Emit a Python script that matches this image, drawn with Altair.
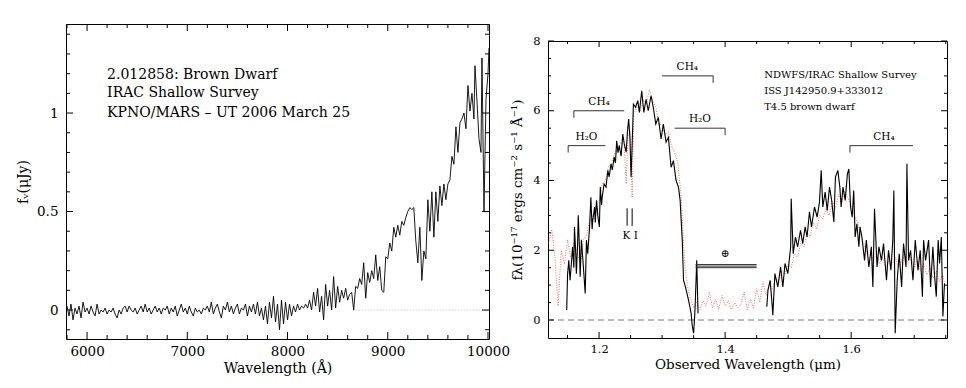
import altair as alt
import pandas as pd

FONT = "DejaVu Serif"

# ---------------- Left panel: optical spectrum (KPNO/MARS) ----------------
opt_wave = list(range(5800, 9600, 20)) + [
    9600, 9620, 9640, 9660, 9680, 9700, 9720, 9740, 9760, 9780, 9800, 9820,
    9840, 9860, 9870, 9890, 9910, 9930, 9940, 9960, 9980, 10000, 10010]
opt_flux = [
    0.02, -0.03, 0.03, -0.05, 0.01, -0.02, 0.02, -0.04, 0.04, -0.01,
    0.01, -0.02, 0.02, -0.01, -0.03, 0.03, -0.02, 0.0, -0.01, 0.01,
    -0.02, 0.0, -0.01, 0.01, -0.02, -0.04, 0.0, -0.02, 0.01, 0.02,
    -0.01, 0.02, 0.0, -0.01, 0.01, -0.02, 0.0, 0.02, -0.01, 0.03,
    -0.01, 0.01, -0.02, 0.0, 0.02, -0.01, 0.01, -0.02, 0.01, 0.0,
    0.02, -0.02, 0.01, -0.01, 0.02, -0.03, 0.0, 0.03, -0.01, 0.01,
    -0.02, 0.02, -0.01, -0.03, 0.01, -0.01, 0.0, -0.02, 0.01, 0.0,
    0.02, -0.01, 0.04, -0.02, 0.01, 0.03, -0.01, -0.04, 0.02, 0.0,
    0.04, -0.01, 0.02, -0.02, 0.01, 0.03, -0.02, 0.01, 0.0, 0.03,
    -0.03, 0.02, -0.01, 0.03, -0.02, 0.04, -0.03, 0.01, -0.05, 0.02,
    -0.07, 0.04, -0.04, 0.07, -0.06, 0.03, -0.10, 0.05, -0.07, 0.04,
    -0.05, 0.03, -0.03, 0.02, -0.01, 0.03, 0.0, 0.02, 0.01, 0.03,
    0.01, 0.05, 0.0, 0.09, 0.02, 0.11, -0.01, 0.07, -0.05, 0.13,
    0.02, 0.10, 0.0, 0.17, 0.01, 0.12, 0.04, 0.10, 0.06, 0.11,
    0.05, 0.08, 0.09, 0.0, 0.12, 0.11, 0.16, 0.13, 0.24, 0.06,
    0.19, 0.14, 0.20, 0.16, 0.28, 0.15, 0.22, 0.10, 0.09, 0.27,
    0.26, 0.34, 0.30, 0.42, 0.37, 0.43, 0.38, 0.45, 0.43, 0.47,
    0.50, 0.52, 0.51, 0.52, 0.35, 0.24, 0.42, 0.15, 0.30, 0.26,
    0.56, 0.40, 0.60, 0.37, 0.60, 0.45, 0.63, 0.53, 0.64, 0.56,
    0.64, 0.66, 0.78, 0.74, 0.93, 0.80, 0.95, 0.97, 1.00, 0.92, 1.14, 1.01,
    1.10, 0.97, 1.24, 1.06, 0.87, 0.80, 1.28, 0.50, 1.07, 1.20, 1.33]
opt_zero_wave = [8650, 10010]
opt_info = ["2.012858: Brown Dwarf", "IRAC Shallow Survey",
            "KPNO/MARS \u2013 UT 2006 March 25"]
opt_info_y = [1.173, 1.083, 0.978]
opt_info_x = [6200, 6200, 6200]

# ---------------- Right panel: near-IR spectrum ----------------
ir_wave_a = [
    1.1487, 1.1500, 1.152, 1.154, 1.156, 1.158, 1.160, 1.161, 1.163, 1.164,
    1.166, 1.167, 1.169, 1.170, 1.172, 1.174, 1.176, 1.178, 1.180, 1.182,
    1.185, 1.187, 1.189, 1.190, 1.193, 1.194, 1.196, 1.198, 1.2005, 1.202,
    1.204, 1.205, 1.208, 1.211, 1.214, 1.216, 1.219, 1.221, 1.224, 1.226,
    1.228, 1.230, 1.232, 1.235, 1.2376, 1.240, 1.243, 1.245, 1.247, 1.249,
    1.2508, 1.2525, 1.2545, 1.258, 1.2614, 1.264, 1.2677, 1.271, 1.2746, 1.278,
    1.2825, 1.286, 1.290, 1.294, 1.2984, 1.302, 1.3063, 1.310, 1.3143, 1.318,
    1.3222, 1.326, 1.3286, 1.332, 1.334, 1.337, 1.3407, 1.343, 1.346, 1.348,
    1.350, 1.352, 1.355, 1.357]
ir_flux_a = [
    0.29, 1.3, 1.71, 1.14, 1.6, 2.1, 1.5, 2.67, 1.9, 1.33,
    2.2, 3.0, 2.0, 1.24, 2.3, 1.81, 1.3, 0.76, 2.29, 1.9,
    2.67, 3.52, 2.6, 2.86, 3.24, 2.8, 3.43, 3.0, 2.67, 3.81,
    3.3, 3.52, 3.9, 3.81, 4.29, 4.1, 4.48, 4.3, 4.67, 4.5,
    5.14, 4.8, 5.0, 4.7, 5.33, 5.05, 4.81, 5.4, 5.76, 5.2,
    4.1, 5.0, 6.19, 6.1, 6.29, 5.95, 6.57, 5.95, 6.33, 6.0,
    6.43, 6.1, 5.62, 5.81, 5.19, 5.62, 5.1, 5.24, 4.38, 4.57,
    4.0, 3.81, 3.43, 2.29, 1.14, 0.95, 0.67, 0.48, 0.19, -0.19,
    -0.38, 0.2, 1.71, 0.19]
ir_wave_b = [
    1.4661, 1.468, 1.4714, 1.474, 1.4757, 1.479, 1.4836, 1.488, 1.4916, 1.495,
    1.4995, 1.504, 1.5048, 1.508, 1.5116, 1.515, 1.5196, 1.523, 1.527, 1.530,
    1.5338, 1.537, 1.5418, 1.546, 1.5497, 1.5524, 1.555, 1.5587, 1.562, 1.5656,
    1.569, 1.5725, 1.575, 1.5788, 1.582, 1.5841, 1.587, 1.5905, 1.594, 1.5963,
    1.599, 1.6016, 1.604, 1.6063, 1.609, 1.6122, 1.614, 1.617, 1.6212, 1.624,
    1.628, 1.632, 1.6344, 1.637, 1.641, 1.644, 1.648, 1.6513, 1.656, 1.6592,
    1.663, 1.666, 1.6677, 1.6698, 1.673, 1.6762, 1.680, 1.683, 1.687, 1.6884,
    1.691, 1.6942, 1.698, 1.7016, 1.706, 1.7095, 1.713, 1.7148, 1.718, 1.7228,
    1.726, 1.7296, 1.732, 1.735, 1.738, 1.7402, 1.743, 1.7455, 1.748]
ir_flux_b = [
    0.38, 0.86, 1.14, 0.57, 0.14, 1.33, 0.95, 1.52, 0.95, 1.62,
    1.33, 2.1, 3.48, 1.9, 2.38, 2.1, 2.57, 2.19, 2.67, 2.38,
    3.1, 2.67, 3.24, 2.95, 3.38, 4.29, 3.24, 3.67, 3.14, 3.81,
    3.43, 2.81, 4.1, 4.29, 3.81, 3.24, 3.81, 3.43, 4.19, 4.33,
    3.24, 2.95, 3.71, 2.38, 2.76, 2.1, 2.67, 2.38, 1.71, 2.29,
    1.52, 2.1, 0.95, 3.19, 1.52, 2.1, 1.71, 2.19, 1.14, 2.0,
    1.43, 2.29, 3.71, -0.38, 1.14, 1.9, 0.95, 2.19, 1.52, 4.48,
    1.71, 2.0, 1.14, 2.29, 1.43, 2.0, 0.67, 2.29, 1.71, 2.29,
    0.95, 2.1, 1.33, 0.67, 2.29, 1.62, 2.38, 0.1, 1.05]
tmpl_wave = [
    1.120, 1.125, 1.130, 1.135, 1.140, 1.145, 1.150, 1.155, 1.160, 1.165,
    1.170, 1.175, 1.180, 1.185, 1.190, 1.195, 1.200, 1.205, 1.210, 1.215,
    1.220, 1.225, 1.230, 1.235, 1.240, 1.243, 1.246, 1.250, 1.2525, 1.255,
    1.260, 1.265, 1.270, 1.275, 1.280, 1.285, 1.290, 1.295, 1.300, 1.305,
    1.310, 1.315, 1.320, 1.325, 1.330, 1.333, 1.336, 1.340,
    1.345, 1.350, 1.355, 1.360, 1.365, 1.370, 1.375, 1.380, 1.385, 1.390,
    1.395, 1.400, 1.405, 1.410, 1.415, 1.420, 1.425, 1.430, 1.435, 1.440,
    1.445, 1.450, 1.455, 1.460, 1.465, 1.470, 1.475, 1.480, 1.485, 1.490,
    1.495, 1.500, 1.505, 1.510, 1.515, 1.520, 1.525, 1.530, 1.535, 1.540,
    1.545, 1.550, 1.555, 1.560, 1.565, 1.570, 1.575, 1.580, 1.585, 1.590,
    1.595, 1.600, 1.605, 1.610, 1.615, 1.620, 1.625, 1.630, 1.635, 1.640,
    1.645, 1.650, 1.655, 1.660, 1.665, 1.670, 1.675, 1.680, 1.685, 1.690,
    1.695, 1.700, 1.705, 1.710, 1.715, 1.720, 1.725, 1.730, 1.735, 1.740,
    1.745, 1.750]
tmpl_flux = [
    2.2, 2.6, 1.8, 0.4, 2.0, 1.6, 2.3, 1.8, 2.2, 2.0,
    1.6, 2.3, 2.4, 2.9, 2.8, 3.3, 3.4, 3.9, 4.0, 4.4,
    4.5, 4.8, 4.9, 5.1, 5.0, 3.9, 5.3, 5.4, 3.5, 5.9,
    6.1, 6.0, 6.3, 6.2, 6.6, 6.3, 6.1, 5.6, 5.6, 5.3,
    5.4, 5.0, 4.8, 4.5, 3.6, 2.6, 1.6, 1.0,
    0.6, 0.35, 0.5, 0.3, 0.55, 0.4, 0.8, 0.35, 0.6, 0.3,
    0.7, 0.4, 0.55, 0.3, 0.5, 0.35, 0.45, 0.8, 0.3, 0.6,
    0.35, 0.9, 0.5, 1.1, 0.7, 1.0, 0.9, 1.2, 1.1, 1.4,
    1.3, 1.6, 1.5, 1.9, 1.8, 2.2, 2.1, 2.5, 2.4, 2.8,
    2.6, 3.0, 2.9, 3.2, 3.0, 3.4, 3.2, 3.6, 3.4, 3.7,
    3.5, 3.3, 3.0, 2.8, 2.4, 2.2, 1.9, 2.0, 1.7, 1.9,
    1.6, 1.8, 1.5, 1.7, 1.6, 1.8, 1.5, 1.7, 1.9, 1.6,
    1.8, 1.5, 1.7, 1.4, 1.6, 1.3, 1.5, 1.2, 1.4, 1.1,
    1.3, 0.9]
ir_zero_wave = [1.119, 1.752]

band_names = ["H\u2082O", "CH\u2084", "CH\u2084", "H\u2082O", "CH\u2084"]
band_x1 = [1.151, 1.160, 1.300, 1.320, 1.598]
band_x2 = [1.210, 1.240, 1.381, 1.400, 1.698]
band_y = [5.0, 6.0, 7.0, 5.5, 5.0]
band_end_x = [1.151, 1.160, 1.381, 1.400, 1.598]
band_end_y = [4.8, 5.8, 6.8, 5.3, 4.8]
band_label_x = [1.180, 1.200, 1.340, 1.360, 1.652]
band_label_y = [5.17, 6.17, 7.17, 5.67, 5.17]

ki_x = [1.2445, 1.2525]
ki_y1 = [2.7, 2.7]
ki_y2 = [3.2, 3.2]
telluric_y = [1.50, 1.545, 1.59]
telluric_x1 = 1.353
telluric_x2 = 1.450

ir_info = ["NDWFS/IRAC Shallow Survey", "ISS J142950.9+333012", "T4.5 brown dwarf"]
ir_info_y = [6.94, 6.49, 6.03]
ir_info_x = [1.462, 1.462, 1.462]

# tick positions
opt_x_major = [6000, 7000, 8000, 9000, 10000]
opt_x_minor = [5800, 6200, 6400, 6600, 6800, 7200, 7400, 7600, 7800, 8200,
               8400, 8600, 8800, 9200, 9400, 9600, 9800]
opt_y_major = [0, 0.5, 1]
opt_y_minor = [-0.1, 0.1, 0.2, 0.3, 0.4, 0.6, 0.7, 0.8, 0.9, 1.1, 1.2, 1.3, 1.4]
ir_x_major = [1.2, 1.4, 1.6]
ir_x_minor = [1.15, 1.25, 1.3, 1.35, 1.45, 1.5, 1.55, 1.65, 1.7, 1.75]
ir_y_major = [0, 2, 4, 6, 8]
ir_y_minor = [0.5, 1, 1.5, 2.5, 3, 3.5, 4.5, 5, 5.5, 6.5, 7, 7.5]


def dom_axis(orient):
    return alt.Axis(orient=orient, domain=True, domainColor="black", domainWidth=1,
                    labels=False, ticks=False, grid=False, title=None)


def axis_layers(xsc, ysc, anchor, xmaj, ymaj, xfmt, yfmt, lab_size, title_size,
                xtitle, ytitle, xlp, ylp, xtp, ytp):
    d = pd.DataFrame({"x": [anchor[0]], "y": [anchor[1]]})
    base = alt.Chart(d).mark_point(opacity=0, size=1)
    main_x = alt.Axis(orient="bottom", values=xmaj, format=xfmt, domain=True,
                      domainColor="black", domainWidth=1, ticks=False, tickSize=0,
                      labelFontSize=lab_size, labelPadding=xlp, labelFlush=False,
                      labelColor="black", labelFont=FONT, grid=False,
                      title=xtitle, titleFont=FONT, titleFontSize=title_size,
                      titleFontWeight="normal", titleColor="black", titlePadding=xtp)
    main_y = alt.Axis(orient="left", values=ymaj, format=yfmt, domain=True,
                      domainColor="black", domainWidth=1, ticks=False, tickSize=0,
                      labelFontSize=lab_size, labelPadding=ylp,
                      labelColor="black", labelFont=FONT, grid=False,
                      title=ytitle, titleFont=FONT, titleFontSize=title_size,
                      titleFontWeight="normal", titleColor="black", titlePadding=ytp)
    return [
        base.encode(x=alt.X("x:Q", scale=xsc, axis=main_x),
                    y=alt.Y("y:Q", scale=ysc, axis=main_y)),
        base.encode(x=alt.X("x:Q", scale=xsc, axis=dom_axis("top")),
                    y=alt.Y("y:Q", scale=ysc, axis=dom_axis("right"))),
    ]


def tick_layer(xsc, ysc, xdom, ydom, W, H, xmaj, xmin, ymaj, ymin, tmaj, tmin):
    """Inward tick marks on all four sides, drawn as two-point line segments."""
    xpp = (xdom[1] - xdom[0]) / W
    ypp = (ydom[1] - ydom[0]) / H
    tx, ty, tid = [], [], []
    k = 0
    for vals, size in ((xmaj, tmaj), (xmin, tmin)):
        for v in vals:
            for y0, sgn in ((ydom[0], 1), (ydom[1], -1)):
                tx += [v, v]
                ty += [y0, y0 + sgn * size * ypp]
                tid += [k, k]
                k += 1
    for vals, size in ((ymaj, tmaj), (ymin, tmin)):
        for v in vals:
            for x0, sgn in ((xdom[0], 1), (xdom[1], -1)):
                tx += [x0, x0 + sgn * size * xpp]
                ty += [v, v]
                tid += [k, k]
                k += 1
    tdf = pd.DataFrame({"tx": tx, "ty": ty, "tid": tid})
    return alt.Chart(tdf).mark_line(color="black", strokeWidth=1).encode(
        x=alt.X("tx:Q", scale=xsc, axis=None),
        y=alt.Y("ty:Q", scale=ysc, axis=None),
        detail="tid:N", order="ty:Q")


# ---------------- left panel ----------------
WL, HL = 423, 315
xdom_l = [5790, 10010]
ydom_l = [-0.147, 1.452]
xs_l = alt.Scale(domain=xdom_l, nice=False, zero=False)
ys_l = alt.Scale(domain=ydom_l, nice=False, zero=False)

df_opt = pd.DataFrame({"x": opt_wave, "y": opt_flux})
df_opt_zero = pd.DataFrame({"x": opt_zero_wave, "y": [0, 0]})
df_opt_info = pd.DataFrame({"x": opt_info_x, "y": opt_info_y, "t": opt_info})

left_layers = axis_layers(xs_l, ys_l, (8000, 0.5), opt_x_major, opt_y_major,
                          "d", "~g", 13.5, 14, "Wavelength (\u00c5)",
                          "f\u1d65(\u03bcJy)", 5, 8, 4, 6)
left_layers += [
    alt.Chart(df_opt_zero).mark_line(color="#bbbbbb", strokeDash=[1, 2], strokeWidth=1).encode(
        x=alt.X("x:Q", scale=xs_l, axis=None), y=alt.Y("y:Q", scale=ys_l, axis=None)),
    alt.Chart(df_opt).mark_line(color="black", strokeWidth=0.9, clip=True).encode(
        x=alt.X("x:Q", scale=xs_l, axis=None), y=alt.Y("y:Q", scale=ys_l, axis=None)),
    alt.Chart(df_opt_info).mark_text(font=FONT, fontSize=14, align="left",
                                     baseline="alphabetic", color="black").encode(
        x=alt.X("x:Q", scale=xs_l, axis=None), y=alt.Y("y:Q", scale=ys_l, axis=None),
        text="t:N"),
    tick_layer(xs_l, ys_l, xdom_l, ydom_l, WL, HL, opt_x_major, opt_x_minor,
               opt_y_major, opt_y_minor, 7, 4),
]
left = alt.layer(*left_layers).resolve_axis(x="independent", y="independent").properties(
    width=WL, height=HL)

# ---------------- right panel ----------------
WR, HR = 399, 297
xdom_r = [1.119, 1.752]
ydom_r = [-0.516, 8.0]
xs_r = alt.Scale(domain=xdom_r, nice=False, zero=False)
ys_r = alt.Scale(domain=ydom_r, nice=False, zero=False)

df_ir = pd.DataFrame({"x": ir_wave_a + ir_wave_b, "y": ir_flux_a + ir_flux_b,
                      "seg": ["a"] * len(ir_wave_a) + ["b"] * len(ir_wave_b)})
df_tmpl = pd.DataFrame({"x": tmpl_wave, "y": tmpl_flux})
df_ir_zero = pd.DataFrame({"x": ir_zero_wave, "y": [0, 0]})
df_bands = pd.DataFrame({"x1": band_x1, "x2": band_x2, "y": band_y,
                         "ex": band_end_x, "ey": band_end_y,
                         "lx": band_label_x, "ly": band_label_y, "t": band_names})
df_ki = pd.DataFrame({"x": ki_x, "y1": ki_y1, "y2": ki_y2})
df_tell = pd.DataFrame({"x1": [telluric_x1] * 3, "x2": [telluric_x2] * 3, "y": telluric_y})
df_ir_info = pd.DataFrame({"x": ir_info_x, "y": ir_info_y, "t": ir_info})
df_marks = pd.DataFrame({"x": [1.2495, 1.400], "y": [2.40, 1.89], "t": ["K I", "\u2295"]})

right_layers = axis_layers(xs_r, ys_r, (1.4, 4), ir_x_major, ir_y_major,
                           ".1f", "d", 11.5, 13.5, "Observed Wavelength (\u03bcm)",
                           "f\u03bb(10\u207b\u00b9\u2077 ergs cm\u207b\u00b2 s\u207b\u00b9 \u00c5\u207b\u00b9)",
                           5, 8, 3, 8)


def XR(f):
    return alt.X(f, scale=xs_r, axis=None)


def YR(f):
    return alt.Y(f, scale=ys_r, axis=None)


right_layers += [
    alt.Chart(df_ir_zero).mark_line(color="#777777", strokeDash=[6, 4], strokeWidth=1).encode(
        x=XR("x:Q"), y=YR("y:Q")),
    alt.Chart(df_tmpl).mark_line(color="#ff5555", strokeDash=[1, 1.5], strokeWidth=1,
                                 opacity=0.9, clip=True).encode(x=XR("x:Q"), y=YR("y:Q")),
    alt.Chart(df_ir).mark_line(color="black", strokeWidth=1.1, clip=True).encode(
        x=XR("x:Q"), y=YR("y:Q"), detail="seg:N"),
    alt.Chart(df_bands).mark_rule(color="#333333", strokeWidth=1).encode(
        x=XR("x1:Q"), x2="x2:Q", y=YR("y:Q")),
    alt.Chart(df_bands).mark_rule(color="#333333", strokeWidth=1).encode(
        x=XR("ex:Q"), y=YR("y:Q"), y2="ey:Q"),
    alt.Chart(df_bands).mark_text(font=FONT, fontSize=10.5, align="center",
                                  baseline="alphabetic", color="black").encode(
        x=XR("lx:Q"), y=YR("ly:Q"), text="t:N"),
    alt.Chart(df_ki).mark_rule(color="black", strokeWidth=1).encode(
        x=XR("x:Q"), y=YR("y1:Q"), y2="y2:Q"),
    alt.Chart(df_tell).mark_rule(color="#333333", strokeWidth=1).encode(
        x=XR("x1:Q"), x2="x2:Q", y=YR("y:Q")),
    alt.Chart(df_marks).mark_text(font=FONT, fontSize=10.5, align="center",
                                  baseline="middle", color="black").encode(
        x=XR("x:Q"), y=YR("y:Q"), text="t:N"),
    alt.Chart(df_ir_info).mark_text(font=FONT, fontSize=10, align="left",
                                    baseline="alphabetic", color="black").encode(
        x=XR("x:Q"), y=YR("y:Q"), text="t:N"),
    tick_layer(xs_r, ys_r, xdom_r, ydom_r, WR, HR, ir_x_major, ir_x_minor,
               ir_y_major, ir_y_minor, 6, 3),
]
right = alt.layer(*right_layers).resolve_axis(x="independent", y="independent").properties(
    width=WR, height=HR)

spacer = alt.Chart(pd.DataFrame({"a": [0]})).mark_rule(opacity=0).encode(
    x=alt.value(0), x2=alt.value(WR), y=alt.value(8)).properties(width=WR, height=17)

right_col = alt.vconcat(spacer, right, spacing=0, bounds="flush")

chart = alt.hconcat(left, right_col, spacing=59, bounds="flush").properties(
    padding={"left": 8, "top": 13, "right": 5, "bottom": 5}
).configure_view(stroke="transparent").configure_axis(grid=False)

chart.save("out.html", embed_options={"renderer": "svg", "actions": False})
